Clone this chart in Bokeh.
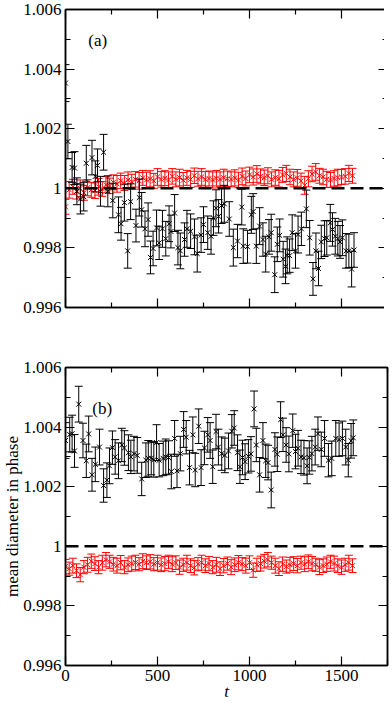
from bokeh.plotting import figure
from bokeh.models import (LinearAxis, FixedTicker, CustomJSTickFormatter, Whisker, TeeHead,
                          ColumnDataSource, Span, Label, Range1d)
from bokeh.layouts import column
from bokeh.embed import file_html
from bokeh.resources import INLINE

FONT = "Liberation Serif"
FS = "17px"

# ---------------- data ----------------
X_TICKS = [0, 500, 1000, 1500]
X_MINOR = [250, 750, 1250, 1750]
Y_TICKS = [0.996, 0.998, 1.0, 1.002, 1.004, 1.006]
Y_MINOR = [0.997, 0.999, 1.001, 1.003, 1.005]

# panel (a) black
ta_black = [0, 13, 36, 49, 62, 81, 99, 113, 144, 162,
            174, 190, 207, 230, 257, 288, 302, 320, 338, 354,
            383, 401, 414, 432, 449, 462, 476, 495, 509, 527,
            545, 563, 573, 593, 611, 624, 647, 660, 680, 701,
            716, 737, 750, 773, 791, 804, 818, 832, 848, 863,
            890, 912, 935, 958, 966, 989, 1010, 1020, 1037, 1055,
            1073, 1088, 1106, 1118, 1137, 1151, 1164, 1183, 1196, 1205,
            1218, 1232, 1250, 1264, 1282, 1309, 1327, 1345, 1361, 1375,
            1390, 1408, 1420, 1439, 1451, 1466, 1480, 1492, 1505, 1525,
            1540, 1555, 1568]
da_black = [1.00353, 1.00157, 1.00070, 1.00068, 0.99990, 0.99964, 0.99972, 1.00084, 1.00103, 1.00040,
            1.00077, 0.99990, 1.00121, 0.99990, 0.99959, 0.99911, 0.99881, 0.99952, 0.99790, 0.99955,
            0.99875, 0.99969, 0.99928, 0.99864, 0.99895, 0.99768, 0.99798, 0.99867, 0.99817, 0.99864,
            0.99831, 0.99881, 0.99855, 0.99917, 0.99801, 0.99790, 0.99828, 0.99864, 0.99856, 0.99837,
            0.99781, 0.99843, 0.99878, 0.99851, 0.99839, 0.99900, 0.99933, 0.99906, 0.99942, 0.99948,
            0.99897, 0.99801, 0.99823, 0.99937, 0.99806, 0.99804, 0.99911, 0.99922, 0.99806, 0.99873,
            0.99828, 0.99779, 0.99837, 0.99851, 0.99710, 0.99812, 0.99842, 0.99762, 0.99738, 0.99775,
            0.99774, 0.99851, 0.99790, 0.99845, 0.99864, 0.99931, 0.99834, 0.99696, 0.99790, 0.99731,
            0.99820, 0.99831, 0.99834, 0.99884, 0.99862, 0.99839, 0.99831, 0.99820, 0.99834, 0.99790,
            0.99790, 0.99729, 0.99793]
ea_black = [0.00062, 0.00058, 0.00050, 0.00055, 0.00045, 0.00050, 0.00048, 0.00060, 0.00058, 0.00052,
            0.00055, 0.00050, 0.00060, 0.00052, 0.00058, 0.00060, 0.00055, 0.00062, 0.00058, 0.00060,
            0.00055, 0.00062, 0.00058, 0.00060, 0.00056, 0.00055, 0.00058, 0.00060, 0.00056, 0.00062,
            0.00058, 0.00060, 0.00055, 0.00062, 0.00058, 0.00060, 0.00056, 0.00062, 0.00058, 0.00060,
            0.00062, 0.00058, 0.00060, 0.00056, 0.00060, 0.00058, 0.00062, 0.00056, 0.00060, 0.00062,
            0.00058, 0.00062, 0.00056, 0.00060, 0.00058, 0.00055, 0.00062, 0.00060, 0.00058, 0.00062,
            0.00056, 0.00060, 0.00058, 0.00062, 0.00060, 0.00058, 0.00055, 0.00060, 0.00058, 0.00062,
            0.00056, 0.00060, 0.00058, 0.00062, 0.00056, 0.00063, 0.00058, 0.00055, 0.00060, 0.00058,
            0.00056, 0.00060, 0.00058, 0.00062, 0.00056, 0.00060, 0.00058, 0.00055, 0.00060, 0.00058,
            0.00056, 0.00060, 0.00058]

# panel (a) red
t_red = [0, 20, 40, 60, 80, 100, 120, 140, 160, 180,
         200, 220, 240, 260, 280, 300, 320, 340, 360, 380,
         400, 420, 440, 460, 480, 500, 520, 540, 560, 580,
         600, 620, 640, 660, 680, 700, 720, 740, 760, 780,
         800, 820, 840, 860, 880, 900, 920, 940, 960, 980,
         1000, 1020, 1040, 1060, 1080, 1100, 1120, 1140, 1160, 1180,
         1200, 1220, 1240, 1260, 1280, 1300, 1320, 1340, 1360, 1380,
         1400, 1420, 1440, 1460, 1480, 1500, 1520, 1540, 1560]
da_red = [0.99938, 0.99995, 1.00005, 0.99990, 1.00000, 0.99985, 1.00002, 0.99995, 0.99992, 1.00005,
          0.99998, 1.00012, 1.00008, 1.00020, 1.00015, 1.00025, 1.00018, 1.00028, 1.00022, 1.00030,
          1.00025, 1.00035, 1.00028, 1.00032, 1.00025, 1.00038, 1.00030, 1.00034, 1.00028, 1.00040,
          1.00030, 1.00036, 1.00027, 1.00035, 1.00030, 1.00042, 1.00032, 1.00038, 1.00030, 1.00033,
          1.00028, 1.00034, 1.00030, 1.00036, 1.00032, 1.00030, 1.00035, 1.00028, 1.00040, 1.00033,
          1.00045, 1.00038, 1.00048, 1.00040, 1.00035, 1.00042, 1.00030, 1.00036, 1.00032, 1.00045,
          1.00050, 1.00038, 1.00030, 1.00035, 1.00025, 1.00010, 1.00032, 1.00048, 1.00055, 1.00042,
          1.00038, 1.00030, 1.00028, 1.00033, 1.00036, 1.00038, 1.00040, 1.00050, 1.00042]
ea_red = [0.00025, 0.00028, 0.00025, 0.00026, 0.00028, 0.00025, 0.00027, 0.00025, 0.00026, 0.00028,
          0.00025, 0.00027, 0.00026, 0.00025, 0.00028, 0.00026, 0.00025, 0.00027, 0.00025, 0.00026,
          0.00028, 0.00025, 0.00026, 0.00027, 0.00025, 0.00028, 0.00026, 0.00025, 0.00027, 0.00026,
          0.00025, 0.00028, 0.00026, 0.00025, 0.00027, 0.00026, 0.00025, 0.00028, 0.00026, 0.00025,
          0.00027, 0.00026, 0.00025, 0.00028, 0.00026, 0.00025, 0.00027, 0.00026, 0.00028, 0.00025,
          0.00026, 0.00027, 0.00028, 0.00025, 0.00026, 0.00027, 0.00025, 0.00026, 0.00028, 0.00025,
          0.00027, 0.00026, 0.00025, 0.00028, 0.00026, 0.00030, 0.00027, 0.00026, 0.00028, 0.00025,
          0.00026, 0.00027, 0.00025, 0.00026, 0.00028, 0.00025, 0.00026, 0.00027, 0.00025]

# panel (b) black
tb_black = [0, 23, 36, 49, 72, 95, 113, 126, 144, 162,
            185, 207, 225, 239, 255, 270, 288, 306, 320, 342,
            355, 372, 390, 414, 437, 450, 466, 480, 495, 509,
            531, 545, 560, 575, 593, 606, 624, 642, 656, 674,
            692, 705, 724, 737, 755, 773, 786, 800, 818, 831,
            849, 866, 886, 904, 917, 935, 948, 962, 976, 994,
            1008, 1025, 1037, 1055, 1073, 1088, 1101, 1118, 1138, 1151,
            1169, 1182, 1199, 1214, 1235, 1250, 1264, 1280, 1296, 1313,
            1325, 1339, 1357, 1372, 1390, 1408, 1429, 1447, 1469, 1487,
            1505, 1523, 1537, 1552, 1564]
db_black = [1.00355, 1.00375, 1.00378, 1.00320, 1.00477, 1.00355, 1.00287, 1.00377, 1.00240, 1.00275,
            1.00333, 1.00204, 1.00222, 1.00270, 1.00331, 1.00300, 1.00287, 1.00340, 1.00330, 1.00314,
            1.00300, 1.00311, 1.00305, 1.00226, 1.00289, 1.00295, 1.00296, 1.00290, 1.00348, 1.00289,
            1.00295, 1.00300, 1.00298, 1.00251, 1.00362, 1.00253, 1.00311, 1.00392, 1.00366, 1.00264,
            1.00374, 1.00256, 1.00403, 1.00264, 1.00330, 1.00374, 1.00355, 1.00267, 1.00385, 1.00333,
            1.00311, 1.00305, 1.00320, 1.00386, 1.00397, 1.00314, 1.00267, 1.00298, 1.00284, 1.00302,
            1.00310, 1.00461, 1.00340, 1.00240, 1.00355, 1.00287, 1.00281, 1.00189, 1.00325, 1.00309,
            1.00425, 1.00374, 1.00340, 1.00310, 1.00388, 1.00318, 1.00329, 1.00300, 1.00297, 1.00270,
            1.00298, 1.00311, 1.00333, 1.00378, 1.00325, 1.00362, 1.00289, 1.00295, 1.00362, 1.00358,
            1.00362, 1.00333, 1.00289, 1.00354, 1.00364]
eb_black = [0.00060, 0.00058, 0.00062, 0.00055, 0.00060, 0.00058, 0.00056, 0.00060, 0.00055, 0.00058,
            0.00060, 0.00056, 0.00058, 0.00060, 0.00056, 0.00058, 0.00060, 0.00056, 0.00058, 0.00060,
            0.00056, 0.00058, 0.00060, 0.00056, 0.00058, 0.00060, 0.00056, 0.00058, 0.00060, 0.00056,
            0.00058, 0.00060, 0.00056, 0.00058, 0.00060, 0.00056, 0.00058, 0.00060, 0.00056, 0.00058,
            0.00060, 0.00056, 0.00058, 0.00060, 0.00056, 0.00058, 0.00060, 0.00056, 0.00058, 0.00060,
            0.00056, 0.00058, 0.00060, 0.00056, 0.00058, 0.00060, 0.00056, 0.00058, 0.00060, 0.00056,
            0.00058, 0.00060, 0.00056, 0.00058, 0.00060, 0.00056, 0.00058, 0.00060, 0.00056, 0.00058,
            0.00060, 0.00056, 0.00058, 0.00060, 0.00056, 0.00058, 0.00060, 0.00056, 0.00058, 0.00060,
            0.00056, 0.00058, 0.00060, 0.00056, 0.00058, 0.00060, 0.00056, 0.00058, 0.00060, 0.00056,
            0.00058, 0.00060, 0.00056, 0.00058, 0.00060]

# panel (b) red (same times as panel (a) red)
db_red = [0.99932, 0.99925, 0.99935, 0.99918, 0.99905, 0.99930, 0.99938, 0.99950, 0.99942, 0.99930,
          0.99945, 0.99955, 0.99948, 0.99940, 0.99935, 0.99945, 0.99930, 0.99938, 0.99942, 0.99946,
          0.99940, 0.99950, 0.99945, 0.99948, 0.99940, 0.99945, 0.99938, 0.99942, 0.99948, 0.99940,
          0.99945, 0.99930, 0.99938, 0.99945, 0.99935, 0.99928, 0.99940, 0.99945, 0.99935, 0.99942,
          0.99930, 0.99938, 0.99925, 0.99935, 0.99942, 0.99930, 0.99938, 0.99945, 0.99940, 0.99935,
          0.99945, 0.99920, 0.99938, 0.99942, 0.99950, 0.99955, 0.99945, 0.99935, 0.99925, 0.99940,
          0.99932, 0.99938, 0.99942, 0.99935, 0.99945, 0.99940, 0.99948, 0.99942, 0.99938, 0.99930,
          0.99935, 0.99940, 0.99948, 0.99942, 0.99935, 0.99930, 0.99938, 0.99945, 0.99935]
eb_red = [0.00024, 0.00022, 0.00025, 0.00023, 0.00024, 0.00022, 0.00025, 0.00024, 0.00023, 0.00022,
          0.00025, 0.00024, 0.00022, 0.00023, 0.00025, 0.00024, 0.00022, 0.00023, 0.00025, 0.00024,
          0.00022, 0.00025, 0.00023, 0.00024, 0.00022, 0.00025, 0.00023, 0.00024, 0.00022, 0.00025,
          0.00023, 0.00024, 0.00022, 0.00025, 0.00023, 0.00024, 0.00022, 0.00025, 0.00023, 0.00024,
          0.00022, 0.00025, 0.00023, 0.00024, 0.00022, 0.00025, 0.00023, 0.00024, 0.00022, 0.00025,
          0.00023, 0.00024, 0.00022, 0.00025, 0.00023, 0.00024, 0.00022, 0.00025, 0.00023, 0.00024,
          0.00022, 0.00025, 0.00023, 0.00024, 0.00022, 0.00025, 0.00023, 0.00024, 0.00022, 0.00025,
          0.00023, 0.00024, 0.00022, 0.00025, 0.00023, 0.00024, 0.00022, 0.00025, 0.00023]

PANEL_LABELS = ["(a)", "(b)"]
Y_LABEL = "mean diameter in phase"
X_LABEL = "t"


def style_axis(ax, show_labels):
    ax.axis_line_color = "black"
    ax.axis_line_width = 1.5
    ax.major_tick_in = 9
    ax.major_tick_out = 0
    ax.minor_tick_in = 5
    ax.minor_tick_out = 0
    ax.major_tick_line_color = "black"
    ax.minor_tick_line_color = "black"
    ax.major_tick_line_width = 1.2
    ax.minor_tick_line_width = 1.2
    ax.major_label_text_font = FONT
    ax.axis_label_text_color = "black"
    if show_labels:
        ax.major_label_text_color = "black"
        ax.major_label_text_font_size = FS
        ax.major_label_standoff = 4
    else:
        ax.major_label_text_color = None
        ax.major_label_text_font_size = "0px"
        ax.major_label_standoff = 0


yfmt_code = "return tick.toFixed(3).replace(/\\.?0+$/, '');"


def make_panel(t_blk, y_blk, e_blk, y_red, e_red, top_border, bottom_border, bottom_labels):
    p = figure(frame_width=322, frame_height=298,
               x_range=Range1d(0, 1750), y_range=Range1d(0.996, 1.006),
               output_backend="svg", toolbar_location=None,
               min_border_left=59, min_border_right=3,
               min_border_top=top_border, min_border_bottom=bottom_border,
               background_fill_color="white", border_fill_color="white")
    p.xgrid.visible = False
    p.ygrid.visible = False
    p.outline_line_color = "black"
    p.outline_line_width = 1.5

    xb = p.xaxis[0]
    xb.ticker = FixedTicker(ticks=X_TICKS, minor_ticks=X_MINOR)
    style_axis(xb, bottom_labels)
    yl = p.yaxis[0]
    yl.ticker = FixedTicker(ticks=Y_TICKS, minor_ticks=Y_MINOR)
    yl.formatter = CustomJSTickFormatter(code=yfmt_code)
    style_axis(yl, True)

    xa = LinearAxis(ticker=FixedTicker(ticks=X_TICKS, minor_ticks=X_MINOR))
    style_axis(xa, False)
    p.add_layout(xa, "above")
    yr = LinearAxis(ticker=FixedTicker(ticks=Y_TICKS, minor_ticks=Y_MINOR))
    style_axis(yr, False)
    p.add_layout(yr, "right")

    # red series
    rsrc = ColumnDataSource(dict(t=t_red, y=y_red,
                                 lo=[a - b for a, b in zip(y_red, e_red)],
                                 hi=[a + b for a, b in zip(y_red, e_red)]))
    rw = Whisker(base="t", lower="lo", upper="hi", source=rsrc,
                 line_color="#ff0000", line_width=1, level="underlay",
                 lower_head=TeeHead(size=8, line_color="#ff0000", line_width=1),
                 upper_head=TeeHead(size=8, line_color="#ff0000", line_width=1))
    p.add_layout(rw)
    r1 = p.scatter("t", "y", source=rsrc, marker="x", size=7, line_color="#ff0000", line_width=1)
    r1.level = "underlay"

    # black series
    bsrc = ColumnDataSource(dict(t=t_blk, y=y_blk,
                                 lo=[a - b for a, b in zip(y_blk, e_blk)],
                                 hi=[a + b for a, b in zip(y_blk, e_blk)]))
    bw = Whisker(base="t", lower="lo", upper="hi", source=bsrc,
                 line_color="black", line_width=1, level="glyph",
                 lower_head=TeeHead(size=8, line_color="black", line_width=1),
                 upper_head=TeeHead(size=8, line_color="black", line_width=1))
    p.add_layout(bw)
    p.scatter("t", "y", source=bsrc, marker="x", size=7, line_color="black", line_width=1)

    p.add_layout(Span(location=1.0, dimension="width", line_color="black",
                      line_width=2.5, line_dash="13 6"))

    return p, xb, yl


pa, pa_x, pa_y = make_panel(ta_black, da_black, ea_black, da_red, ea_red, 9, 32, False)
pa.add_layout(Label(x=124, y=1.00497, text=PANEL_LABELS[0], text_font=FONT,
                    text_font_size=FS, text_baseline="middle", text_color="black"))

pb, pb_x, pb_y = make_panel(tb_black, db_black, eb_black, db_red, eb_red, 28, 40, True)
pb.add_layout(Label(x=146, y=1.00464, text=PANEL_LABELS[1], text_font=FONT,
                    text_font_size=FS, text_baseline="middle", text_color="black"))
pb_x.axis_label = X_LABEL
pb_x.axis_label_text_font = FONT
pb_x.axis_label_text_font_size = FS
pb_x.axis_label_text_font_style = "italic"
pb_x.axis_label_text_color = "black"
pb_x.axis_label_standoff = -2
pb_y.axis_label = Y_LABEL
pb_y.axis_label_text_font = FONT
pb_y.axis_label_text_font_size = FS
pb_y.axis_label_text_font_style = "normal"
pb_y.axis_label_text_color = "black"
pb_y.axis_label_standoff = -2

layout = column(pa, pb, spacing=0)
open("out.html", "w").write(file_html(layout, INLINE))
